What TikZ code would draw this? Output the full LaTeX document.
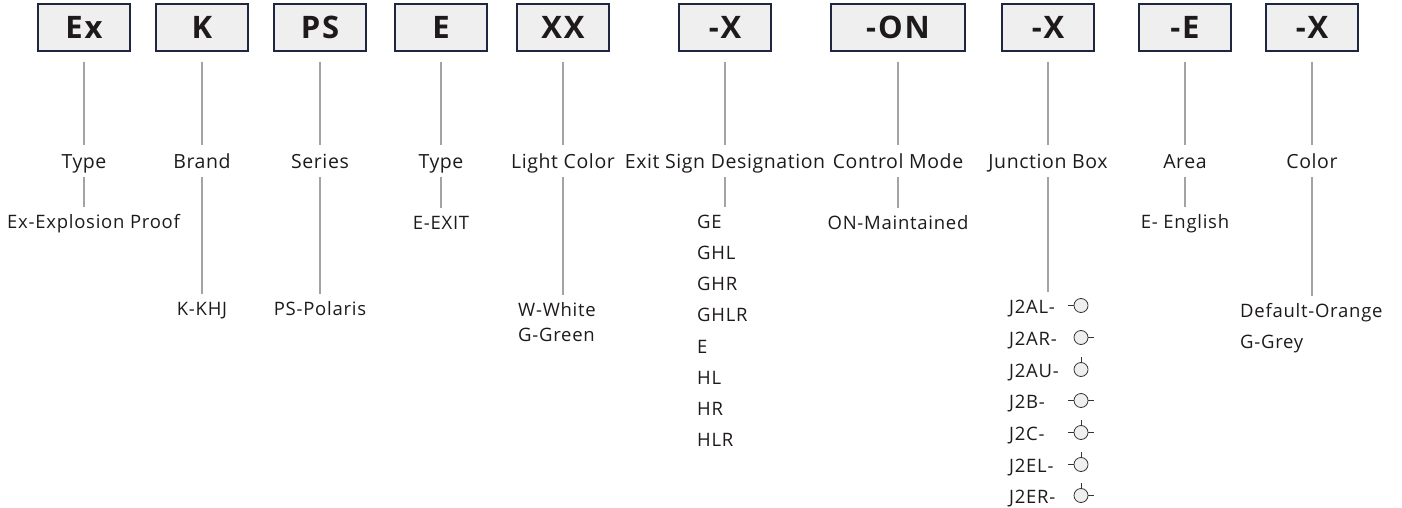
\documentclass[tikz,border=0pt]{standalone}
\usepackage{fontspec}
\usepackage{xcolor}
\setmainfont{Open Sans}
\newfontfamily\codefont{Open Sans}[LetterSpace=6]
\newfontfamily\lblfont{Open Sans}[LetterSpace=3]
\newfontfamily\valfont{Open Sans}[LetterSpace=4]
\definecolor{boxfill}{HTML}{EEEFEE}
\definecolor{boxline}{HTML}{1F2640}
\definecolor{linkgrey}{HTML}{A3A3A3}
\definecolor{txt}{HTML}{1E1A1B}

\tikzset{
  codebox/.style={draw=boxline, line width=1.4pt, fill=boxfill, minimum width=92pt,
    minimum height=47pt, inner sep=0pt, text=txt,
    font=\codefont\fontsize{31}{36}\selectfont\bfseries},
  lbl/.style={anchor=base, inner sep=0pt, text height=12pt, text depth=4pt, text=txt,
    font=\lblfont\fontsize{19.5}{22}\selectfont},
  val/.style={anchor=base west, inner sep=0pt, text height=12pt, text depth=4pt, text=txt,
    font=\valfont\fontsize{18.5}{22}\selectfont},
  link/.style={draw=linkgrey, line width=1.1pt},
  upper/.style={link, shorten <=10pt, shorten >=11pt},
  lower/.style={link, shorten <=5pt, shorten >=9pt},
  jcirc/.style={draw=black!80, fill=boxfill, line width=0.8pt},
  jtick/.style={draw=black!80, line width=0.8pt}
}

\begin{document}
\begin{tikzpicture}[x=1pt, y=-1pt]
        \useasboundingbox (0,0) rectangle (1402,508);

        % code boxes
        \node[codebox] (bex) at (84,27.5) {Ex};
        \node[codebox] (bk)  at (202,27.5) {K};
        \node[codebox] (bps) at (320,27.5) {PS};
        \node[codebox] (be)  at (441,27.5) {E};
        \node[codebox] (bxx) at (563,27.5) {XX};
        \node[codebox] (bsign) at (725,27.5) {-X};
        \node[codebox, minimum width=134pt] (bon) at (898,27.5) {-ON};
        \node[codebox] (bjb) at (1048,27.5) {-X};
        \node[codebox] (barea) at (1185,27.5) {-E};
        \node[codebox] (bcol) at (1312,27.5) {-X};

        % captions
        \node[lbl] (lex) at (84,168) {Type};
        \node[lbl] (lk)  at (202,168) {Brand};
        \node[lbl] (lps) at (320,168) {Series};
        \node[lbl] (le)  at (441,168) {Type};
        \node[lbl] (lxx) at (563,168) {Light Color};
        \node[lbl] (lsign) at (725,168) {Exit Sign Designation};
        \node[lbl] (lon) at (898,168) {Control Mode};
        \node[lbl] (ljb) at (1048,168) {Junction Box};
        \node[lbl] (larea) at (1185,168) {Area};
        \node[lbl] (lcol) at (1312,168) {Color};

        % options
        \node[val] (vex) at (7,228) {Ex-Explosion Proof};
        \node[val, anchor=base] (vk) at (202,315) {K-KHJ};
        \node[val, anchor=base] (vps) at (320,315) {PS-Polaris};
        \node[val, anchor=base] (ve) at (441,229) {E-EXIT};
        \node[val] (vxx) at (518,316) {W-White};
        \node[val] (vxx2) at (518,341) {G-Green};
        \node[val] (vs1) at (697,228) {GE};
        \node[val] (vs2) at (697,259) {GHL};
        \node[val] (vs3) at (697,290) {GHR};
        \node[val] (vs4) at (697,321) {GHLR};
        \node[val] (vs5) at (697,353) {E};
        \node[val] (vs6) at (697,384) {HL};
        \node[val] (vs7) at (697,415) {HR};
        \node[val] (vs8) at (697,446) {HLR};
        \node[val, anchor=base] (von) at (898,229) {ON-Maintained};
        \node[val] (vj1) at (1009,313) {J2AL-};
        \node[val] (vj2) at (1009,345) {J2AR-};
        \node[val] (vj3) at (1009,377) {J2AU-};
        \node[val] (vj4) at (1009,408) {J2B-};
        \node[val] (vj5) at (1009,440) {J2C-};
        \node[val] (vj6) at (1009,472) {J2EL-};
        \node[val] (vj7) at (1009,503) {J2ER-};
        \node[val, anchor=base] (varea) at (1185,228) {E- English};
        \node[val] (vcol) at (1240,317) {Default-Orange};
        \node[val] (vcol2) at (1240,348) {G-Grey};

        % box to caption
        \draw[upper] (bex) -- (lex);
        \draw[upper] (bk) -- (lk);
        \draw[upper] (bps) -- (lps);
        \draw[upper] (be) -- (le);
        \draw[upper] (bxx) -- (lxx);
        \draw[upper] (bsign) -- (lsign);
        \draw[upper] (bon) -- (lon);
        \draw[upper] (bjb) -- (ljb);
        \draw[upper] (barea) -- (larea);
        \draw[upper] (bcol) -- (lcol);

        % caption to options
        \draw[lower] (lex.south) -- (lex.south |- vex.north);
        \draw[lower] (lk.south) -- (lk.south |- vk.north);
        \draw[lower] (lps.south) -- (lps.south |- vps.north);
        \draw[lower] (le.south) -- (le.south |- ve.north);
        \draw[lower] (lxx.south) -- (lxx.south |- vxx.north);
        \draw[lower] (lsign.south) -- (lsign.south |- vs1.north);
        \draw[lower] (lon.south) -- (lon.south |- von.north);
        \draw[lower] (ljb.south) -- (ljb.south |- vj1.north);
        \draw[lower] (larea.south) -- (larea.south |- varea.north);
        \draw[lower] (lcol.south) -- (lcol.south |- vcol.north);

        % junction box outlets
        \filldraw[jcirc] (1081,305.5) circle (7);
        \draw[jtick] (1068,305.5) -- (1074,305.5);
        \filldraw[jcirc] (1081,337.5) circle (7);
        \draw[jtick] (1088,337.5) -- (1094,337.5);
        \filldraw[jcirc] (1081,369.5) circle (7);
        \draw[jtick] (1081,362.5) -- (1081,356.5);
        \filldraw[jcirc] (1081,400.5) circle (7);
        \draw[jtick] (1068,400.5) -- (1074,400.5);
        \draw[jtick] (1088,400.5) -- (1094,400.5);
        \filldraw[jcirc] (1081,432.5) circle (7);
        \draw[jtick] (1068,432.5) -- (1074,432.5);
        \draw[jtick] (1088,432.5) -- (1094,432.5);
        \draw[jtick] (1081,425.5) -- (1081,419.5);
        \filldraw[jcirc] (1081,464.5) circle (7);
        \draw[jtick] (1068,464.5) -- (1074,464.5);
        \draw[jtick] (1081,457.5) -- (1081,451.5);
        \filldraw[jcirc] (1081,495.5) circle (7);
        \draw[jtick] (1088,495.5) -- (1094,495.5);
        \draw[jtick] (1081,488.5) -- (1081,482.5);
      \end{tikzpicture}
\end{document}
